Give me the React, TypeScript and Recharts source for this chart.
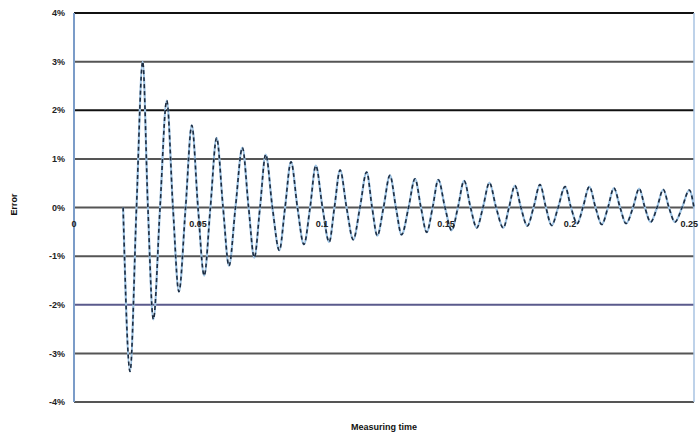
import React from 'react';
import { LineChart, Line, XAxis, YAxis, ReferenceLine } from 'recharts';

const timeValues = [
  0.0198, 0.0226, 0.0252, 0.0277, 0.0298, 0.032, 0.0347, 0.0374, 0.0399, 0.0423,
  0.045, 0.0475, 0.05, 0.0525, 0.055, 0.0575, 0.0601, 0.0625, 0.0651, 0.0679,
  0.0704, 0.0727, 0.075, 0.0773, 0.08, 0.0828, 0.0851, 0.0875, 0.0901, 0.0927,
  0.0952, 0.0975, 0.1002, 0.1029, 0.105, 0.1073, 0.1099, 0.1126, 0.1153, 0.118,
  0.1202, 0.1223, 0.1248, 0.1274, 0.1298, 0.1321, 0.1349, 0.1375, 0.1399, 0.1422,
  0.1446, 0.1469, 0.1496, 0.1523, 0.1548, 0.1573, 0.1599, 0.1624, 0.1649, 0.1675,
  0.1702, 0.1731, 0.1754, 0.1778, 0.1802, 0.1828, 0.1853, 0.1879, 0.1903, 0.1926,
  0.1952, 0.198, 0.2004, 0.2029, 0.2052, 0.2078, 0.2103, 0.2128, 0.2153, 0.2177,
  0.2202, 0.2226, 0.2254, 0.2279, 0.2302, 0.2325, 0.2351, 0.2376, 0.2399, 0.2423,
  0.2452, 0.2481, 0.25,
];

// Error (%) at the same points
const errorValues = [
  0, -3.37, 0, 3.0, 0, -2.3, 0, 2.2, 0, -1.73,
  0, 1.69, 0, -1.4, 0, 1.43, 0, -1.2, 0, 1.23,
  0, -1.03, 0, 1.09, 0, -0.88, 0, 0.94, 0, -0.76,
  0, 0.86, 0, -0.71, 0, 0.77, 0, -0.66, 0, 0.73,
  0, -0.58, 0, 0.66, 0, -0.56, 0, 0.59, 0, -0.51,
  0, 0.57, 0, -0.47, 0, 0.55, 0, -0.42, 0, 0.51,
  0, -0.42, 0, 0.45, 0, -0.38, 0, 0.47, 0, -0.37,
  0, 0.43, 0, -0.33, 0, 0.43, 0, -0.35, 0, 0.4,
  0, -0.33, 0, 0.39, 0, -0.3, 0, 0.37, 0, -0.3,
  0, 0.36, 0,
];

const xTicks = [0, 0.05, 0.1, 0.15, 0.2, 0.25];
const xTickLabels = ['0', '0.05', '0.1', '0.15', '0.2', '0.25'];
const yTicks = [-4, -3, -2, -1, 0, 1, 2, 3, 4];
const yTickLabels = ['-4%', '-3%', '-2%', '-1%', '0%', '1%', '2%', '3%', '4%'];
const gridColors = ['#555', '#555', '#5a5a8c', '#555', '#555', '#555', '#111', '#555', '#111'];

const data = timeValues.map((t, i) => ({ t, err: errorValues[i] }));

const FONT = '"Liberation Sans", Arial, sans-serif';

const XTick = (props: any) => {
  const { x, y, payload } = props;
  const idx = xTicks.indexOf(payload.value);
  const last = idx === xTicks.length - 1;
  return (
    <text
      x={last ? x + 4 : x}
      y={y - 175}
      textAnchor={last ? 'end' : 'middle'}
      fontFamily={FONT}
      fontSize={9}
      fontWeight="bold"
      fill="#222"
    >
      {idx >= 0 ? xTickLabels[idx] : payload.value}
    </text>
  );
};

export default function App() {
  return (
    <div style={{ position: 'absolute', left: 0, top: 0, width: 699, height: 434, background: '#fff' }}>
      <LineChart width={699} height={434} data={data} margin={{ top: 13, right: 5, bottom: 0, left: 0 }}>
        {yTicks.map((v, i) => (
          <ReferenceLine key={v} y={v} stroke={gridColors[i]} strokeWidth={2} ifOverflow="extendDomain" />
        ))}
        <ReferenceLine x={0.25} stroke="#a9c3e2" strokeWidth={1.5} />
        <XAxis
          dataKey="t"
          type="number"
          domain={[0, 0.25]}
          ticks={xTicks}
          axisLine={false}
          tickLine={false}
          tickSize={0}
          tickMargin={0}
          height={32}
          interval={0}
          tick={<XTick />}
          label={{
            content: (p: any) => {
              const vb = p.viewBox || { x: 74, y: 402, width: 620, height: 32 };
              return (
                <text x={vb.x + vb.width / 2} y={vb.y + 28} textAnchor="middle" fontFamily={FONT} fontSize={9} fontWeight="bold" fill="#111">
                  Measuring time
                </text>
              );
            },
          }}
        />
        <YAxis
          type="number"
          domain={[-4, 4]}
          ticks={yTicks}
          width={74}
          interval={0}
          axisLine={{ stroke: '#7b9cc8', strokeWidth: 2 }}
          tickLine={false}
          tickSize={6}
          tickMargin={3}
          tickFormatter={(v: number) => yTickLabels[yTicks.indexOf(v)]}
          tick={{ fontFamily: FONT, fontSize: 9, fontWeight: 'bold', fill: '#222' }}
          label={{
            content: (p: any) => {
              const vb = p.viewBox || { x: 0, y: 13, width: 74, height: 389 };
              const cx = vb.x + 17;
              const cy = vb.y + vb.height / 2 - 3;
              return (
                <text x={cx} y={cy} transform={`rotate(-90 ${cx} ${cy})`} textAnchor="middle" fontFamily={FONT} fontSize={9} fontWeight="bold" fill="#111">
                  Error
                </text>
              );
            },
          }}
        />
        <Line
          dataKey="err"
          type="monotone"
          stroke="#9fc4e4"
          strokeWidth={2.2}
          dot={false}
          isAnimationActive={false}
        />
        <Line
          dataKey="err"
          type="monotone"
          stroke="#1d2c40"
          strokeWidth={1.6}
          strokeDasharray="4 3"
          dot={false}
          isAnimationActive={false}
        />
      </LineChart>
    </div>
  );
}
